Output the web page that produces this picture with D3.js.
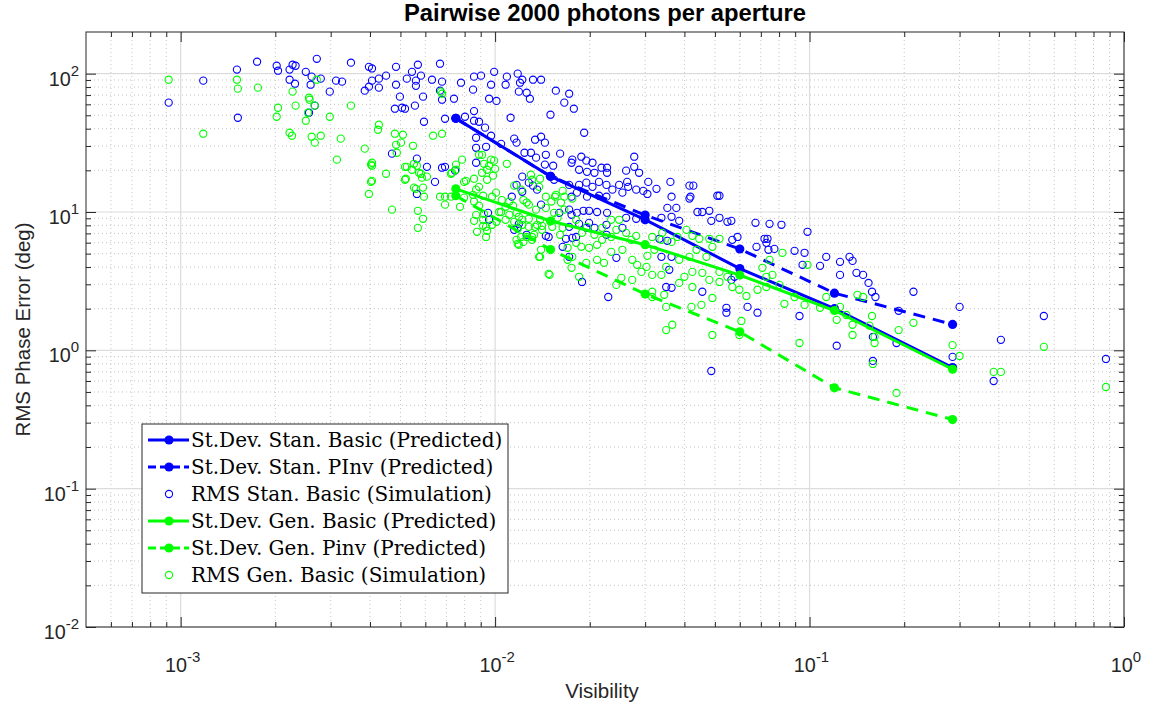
<!DOCTYPE html>
<html>
<head>
<meta charset="utf-8">
<script src="https://cdn.jsdelivr.net/npm/d3@7/dist/d3.min.js"></script>
<style>
  body { margin: 0; background: #fff; }
  text { font-family: "Liberation Sans", Arial, sans-serif; fill: #262626; }
</style>
</head>
<body>
<div id="chart"></div>
<script>
// predicted curves (visibility vs st.dev, deg)
var visPred = [0.0075, 0.015, 0.03, 0.06, 0.12, 0.285];
var stanBasicPred = [47.5, 18.1, 8.8, 3.9, 2.0, 0.75];
var stanPinvPred = [47.5, 18.1, 9.5, 5.4, 2.59, 1.54];
var genBasicPred = [14.7, 8.6, 5.8, 3.5, 1.94, 0.73];
var genPinvPred = [13.1, 5.35, 2.55, 1.36, 0.536, 0.316];

// simulation, standard basic: [visibility, rms error]
var stanSim = [
  [0.000916,61.7],[0.00118,89.0],[0.00151,107],[0.00152,48.0],[0.00175,122],[0.00202,114],[0.00204,105],
  [0.00222,107],[0.00227,116],[0.00232,114],[0.0025,103],[0.00261,95.1],[0.00279,92.0],[0.00222,90.4],
  [0.00231,84.6],[0.00259,83.2],[0.00271,128],[0.00298,74.1],[0.00312,89.0],[0.00326,87.5],[0.00348,120],
  [0.00267,58.7],[0.00256,52.2],[0.00397,112],[0.00406,109],[0.00406,89.0],[0.00397,80.5],[0.00385,75.3],
  [0.00427,79.2],[0.00427,92.0],[0.0045,96.7],[0.00484,112],[0.00484,83.2],[0.00498,68.2],[0.0048,55.8],
  [0.00506,56.7],[0.00517,55.8],[0.00556,58.7],[0.00524,92.0],[0.00544,103],[0.0056,89.0],[0.0056,81.6],
  [0.00568,116],[0.00581,96.7],[0.0059,68.2],[0.0063,90.4],[0.00668,118],[0.00678,87.5],[0.00668,75.3],
  [0.00678,64.8],[0.0074,65.9],[0.00779,86.0],[0.00857,95.1],[0.00851,76.6],[0.00857,53.6],[0.00693,47.2],
  [0.00594,44.9],[0.00802,48.8],[0.00857,45.7],[0.0087,34.4],[0.0087,29.1],[0.0047,26.4],[0.00564,24.3],
  [0.00607,21.2],[0.00678,20.9],[0.00693,21.2],[0.00746,19.9],[0.00644,16.5],[0.00564,13.5],[0.0087,22.7],
  [0.00902,96.7],[0.00993,103],[0.00971,83.2],[0.00957,65.9],[0.0101,63.5],[0.0109,95.1],[0.0108,83.2],
  [0.0118,100],[0.0122,90.4],[0.012,86.0],[0.0119,74.1],[0.0126,72.8],[0.0129,65.9],[0.0132,90.4],
  [0.014,90.4],[0.0156,75.3],[0.0172,71.6],[0.0166,61.7],[0.0178,55.8],[0.015,50.5],[0.0112,48.0],
  [0.00929,40.7],[0.00889,44.9],[0.00971,35.6],[0.01045,31.1],[0.00936,29.6],[0.0115,33.9],[0.0117,31.7],
  [0.0134,33.3],[0.014,35.0],[0.0144,31.7],[0.0192,37.4],[0.0124,26.8],[0.013,26.8],[0.0145,25.9],
  [0.0161,26.4],[0.0135,24.7],[0.0144,22.0],[0.0153,21.6],[0.0176,23.9],[0.0175,22.7],[0.0188,25.1],
  [0.0195,23.5],[0.0204,22.7],[0.0185,20.2],[0.0196,19.5],[0.0207,19.2],[0.0218,20.9],[0.0227,20.9],
  [0.0227,19.2],[0.0261,19.9],[0.0277,25.1],[0.0277,21.2],[0.0287,19.2],[0.0263,16.5],[0.0281,14.5],
  [0.0307,16.5],[0.0361,16.5],[0.0415,15.5],[0.0427,15.5],[0.0517,13.1],[0.0364,12.9],[0.0418,12.9],
  [0.0122,18.0],[0.0117,15.7],[0.0113,12.9],[0.0128,16.3],[0.0122,14.0],[0.0172,15.7],[0.0185,15.7],
  [0.0195,16.3],[0.0204,15.2],[0.0214,16.5],[0.0226,15.7],[0.0236,14.5],[0.0248,15.7],[0.0254,13.8],
  [0.0265,15.2],[0.0296,14.2],[0.0305,13.5],[0.0326,14.7],[0.0182,13.8],[0.0196,12.9],[0.0214,13.1],
  [0.0226,12.9],[0.0175,12.9],[0.014,11.3],[0.0148,6.60],[0.0136,14.5],[0.0154,17.1],[0.0132,15.5],
  [0.044,10.0],[0.0456,10.0],[0.048,10.2],[0.0487,8.63],[0.0517,9.08],[0.0548,8.49],[0.0564,8.63],
  [0.0353,10.7],[0.0377,10.7],[0.0364,9.23],[0.0385,8.63],[0.0338,9.08],[0.0415,12.5],[0.0509,13.1],
  [0.0673,8.35],[0.0746,8.21],[0.0814,8.08],[0.0985,7.19],[0.059,6.60],[0.0568,6.29],[0.0719,6.40],
  [0.0735,6.40],[0.0729,5.98],[0.0678,5.60],[0.074,5.33],[0.0773,5.41],[0.0896,5.24],[0.0964,5.07],
  [0.113,4.74],[0.125,4.36],[0.134,4.74],[0.137,4.43],[0.125,3.51],[0.141,3.63],[0.148,3.51],[0.154,3.07],
  [0.162,2.43],[0.095,4.15],[0.108,4.08],[0.0929,1.77],[0.122,1.08],[0.0261,9.08],[0.0281,8.93],
  [0.0227,9.86],[0.0226,6.84],[0.0254,7.68],[0.0243,4.66],[0.0333,6.40],[0.0353,6.19],[0.0364,4.74],
  [0.0338,4.74],[0.035,2.87],[0.0364,2.83],[0.0456,2.65],[0.0544,2.03],[0.0544,1.87],[0.0635,2.06],
  [0.0683,1.87],[0.0577,3.40],[0.0564,3.23],[0.0189,3.12],[0.0229,2.43],[0.0199,8.35],[0.0207,7.68],
  [0.0172,10.4],[0.0175,9.54],[0.0182,9.86],[0.0191,10.2],[0.0172,7.81],[0.0185,8.21],[0.0195,7.68],
  [0.016,9.86],[0.0199,10.2],[0.0211,10.0],[0.0226,8.08],[0.0168,6.40],[0.0176,6.50],[0.0181,6.60],
  [0.0164,5.60],[0.0172,4.74],[0.0145,6.72],[0.0126,6.84],[0.0115,7.43],[0.0118,7.68],[0.0119,8.21],
  [0.00957,8.78],[0.0095,9.86],[0.0358,3.82],[0.0487,0.709],[0.159,0.838],[0.285,0.896],[0.214,2.65],
  [0.300,2.06],[0.192,1.93],[0.189,1.13],[0.159,1.25],[0.158,2.65],[0.556,1.77],[0.406,1.19],[0.385,0.60],
  [0.876,0.866]
];

// simulation, generalised basic: [visibility, rms error]
var genSim = [
  [0.000916,90.4],[0.00118,36.8],[0.00151,90.4],[0.00152,77.9],[0.00176,79.2],[0.00227,74.1],[0.00204,56.7],
  [0.00202,48.8],[0.00232,58.7],[0.00256,67.0],[0.00257,64.8],[0.0025,45.7],[0.00222,37.4],[0.00226,35.6],
  [0.00261,35.0],[0.00267,31.7],[0.00279,35.6],[0.00298,48.8],[0.00323,33.9],[0.00348,58.7],[0.00314,23.9],
  [0.00385,28.7],[0.00406,22.7],[0.00403,22.0],[0.00406,16.8],[0.00403,16.5],[0.00397,13.5],[0.00427,42.7],
  [0.00424,39.3],[0.00271,90.4],[0.00254,52.2],[0.00267,58.7],[0.0045,18.9],[0.0048,36.8],[0.00509,36.2],
  [0.00502,31.7],[0.00484,30.6],[0.00487,26.8],[0.00548,30.1],[0.00635,35.6],[0.00678,36.8],[0.00517,21.2],
  [0.00552,22.3],[0.00564,21.6],[0.00524,21.2],[0.00581,18.9],[0.00607,18.0],[0.00517,17.1],[0.0056,14.7],
  [0.00552,15.0],[0.00594,12.9],[0.00668,12.9],[0.00693,12.9],[0.00724,18.9],[0.00751,22.0],[0.00797,16.5],
  [0.00857,17.4],[0.00785,23.9],[0.00673,74.1],[0.00678,71.6],[0.0047,10.4],[0.0059,15.0],[0.00568,10.2],
  [0.0059,8.93],[0.00568,7.68],[0.00693,11.3],[0.00773,10.9],[0.00857,11.9],[0.00857,8.63],[0.00876,7.19],
  [0.0087,9.54],[0.00544,20.2],[0.00573,19.2],[0.00585,17.7],[0.0052,17.4],[0.00406,21.6],[0.00724,12.9],
  [0.00729,19.2],[0.00751,20.2],[0.00808,16.8],[0.00851,13.3],[0.00797,12.7],[0.00993,23.5],[0.0109,22.3],
  [0.01,20.5],[0.00985,18.3],[0.00957,21.6],[0.00922,22.3],[0.00909,25.9],[0.00889,15.2],[0.0087,14.5],
  [0.00916,13.1],[0.00889,11.1],[0.00916,7.94],[0.00943,7.31],[0.00936,6.60],[0.00916,8.78],[0.0111,11.9],
  [0.0114,11.1],[0.0117,9.86],[0.0115,8.49],[0.0119,9.23],[0.0122,8.78],[0.0128,8.93],[0.0134,7.81],
  [0.0139,8.78],[0.0141,7.94],[0.0118,7.55],[0.0121,6.60],[0.0123,6.08],[0.0118,5.89],[0.0131,6.60],
  [0.0139,4.74],[0.0148,3.57],[0.0161,6.84],[0.0123,12.2],[0.0128,11.3],[0.0135,10.4],[0.0145,10.7],
  [0.0154,9.86],[0.0151,11.9],[0.0162,11.7],[0.0166,12.9],[0.0156,13.3],[0.0139,17.4],[0.01045,10.0],
  [0.0105,12.2],[0.0108,10.9],[0.00943,20.2],[0.00978,12.9],[0.00922,9.70],[0.00889,25.9],[0.00971,23.9],
  [0.00909,19.2],[0.00943,17.1],[0.01007,13.8],[0.0115,15.5],[0.0121,14.5],[0.0131,17.1],[0.0138,15.2],
  [0.013,18.6],[0.0164,14.2],[0.0155,12.9],[0.0145,12.9],[0.0176,12.5],[0.00936,7.81],[0.0101,8.49],
  [0.0108,8.78],[0.0122,8.08],[0.0128,7.81],[0.0136,8.08],[0.0141,7.43],[0.0133,6.84],[0.0126,6.60],
  [0.0117,6.29],[0.0119,5.79],[0.0131,6.29],[0.014,5.33],[0.0138,4.74],[0.0164,7.68],[0.0152,7.81],
  [0.0158,9.08],[0.0166,10.4],[0.0181,8.78],[0.0189,7.07],[0.0196,7.81],[0.0207,6.84],[0.0219,7.68],
  [0.0234,8.78],[0.0248,8.78],[0.0243,7.43],[0.0261,7.07],[0.0271,6.29],[0.0281,6.72],[0.0234,6.60],
  [0.0219,6.29],[0.0211,5.79],[0.0199,5.51],[0.0188,5.60],[0.0181,5.98],[0.017,5.51],[0.0176,4.74],
  [0.0195,4.29],[0.0211,4.51],[0.0222,4.29],[0.0234,5.15],[0.0254,5.33],[0.0273,4.51],[0.0283,4.15],
  [0.0303,4.01],[0.0305,4.82],[0.0321,5.33],[0.0316,6.60],[0.034,7.07],[0.0338,6.29],[0.0364,6.08],
  [0.038,6.60],[0.0406,7.43],[0.0424,6.72],[0.0446,6.40],[0.048,6.40],[0.0415,4.74],[0.0437,5.33],
  [0.047,4.74],[0.0491,5.60],[0.0517,6.40],[0.0385,4.51],[0.035,4.01],[0.0338,3.51],[0.0316,3.51],
  [0.0292,3.69],[0.04,3.40],[0.0424,3.69],[0.0456,3.63],[0.048,3.23],[0.0517,3.69],[0.0548,3.40],
  [0.0568,2.87],[0.0517,3.12],[0.0598,2.74],[0.063,2.47],[0.0683,2.74],[0.0729,3.40],[0.0762,3.51],
  [0.0729,2.87],[0.0802,2.97],[0.082,5.07],[0.0746,4.51],[0.0708,3.95],[0.0896,2.43],[0.0985,4.15],
  [0.113,2.43],[0.108,2.03],[0.0964,2.13],[0.0832,2.17],[0.122,1.66],[0.137,1.53],[0.137,1.29],
  [0.161,1.25],[0.161,1.13],[0.142,2.52],[0.125,2.06],[0.131,1.80],[0.0929,1.13],[0.0598,1.29],
  [0.0491,1.29],[0.0366,1.53],[0.035,1.40],[0.0243,2.97],[0.0252,3.34],[0.0273,3.23],[0.0316,2.65],
  [0.0316,2.43],[0.0345,2.52],[0.0385,3.07],[0.0424,2.87],[0.035,2.06],[0.0421,2.06],[0.0453,2.13],
  [0.0491,2.39],[0.0149,3.51],[0.0185,3.40],[0.017,4.51],[0.0175,3.95],[0.0126,11.7],[0.0111,9.54],
  [0.0103,10.0],[0.00978,8.08],[0.159,0.797],[0.189,0.492],[0.300,0.91],[0.214,1.58],[0.192,1.40],
  [0.285,1.09],[0.148,2.43],[0.158,1.77],[0.155,1.51],[0.385,0.698],[0.406,0.698],[0.556,1.06],
  [0.876,0.543],[0.0607,1.63]
];

var xMajor = [1e-3, 1e-2, 1e-1, 1];
var yMajor = [1e-2, 1e-1, 1, 10, 100];
var legendLabels = [
  "St.Dev. Stan. Basic (Predicted)",
  "St.Dev. Stan. PInv (Predicted)",
  "RMS Stan. Basic (Simulation)",
  "St.Dev. Gen. Basic (Predicted)",
  "St.Dev. Gen. Pinv (Predicted)",
  "RMS Gen. Basic (Simulation)"
];

var BLUE = "#0000ff", GREEN = "#00ff00";

// set the dimensions and margins of the graph
var margin = {top: 32, right: 29, bottom: 79, left: 86},
    width = 1153 - margin.left - margin.right,
    height = 706 - margin.top - margin.bottom;

var root = d3.select("#chart")
  .append("svg")
    .attr("width", width + margin.left + margin.right)
    .attr("height", height + margin.top + margin.bottom);

var svg = root.append("g")
    .attr("transform", "translate(" + margin.left + "," + margin.top + ")");

var x = d3.scaleLog().domain([5e-4, 1]).range([0, width]);
var y = d3.scaleLog().domain([0.01, 200]).range([height, 0]);

// minor tick positions (2..9 of each decade inside the domain)
function minors(scale) {
  var dom = scale.domain(), out = [];
  for (var e = Math.floor(Math.log10(dom[0])); e < Math.ceil(Math.log10(dom[1])); e++) {
    for (var m = 2; m <= 9; m++) {
      var v = m * Math.pow(10, e);
      if (v > dom[0] * 1.0001 && v < dom[1] * 0.9999) out.push(v);
    }
  }
  return out;
}
var xMinor = minors(x), yMinor = minors(y);

// grid
var grid = svg.append("g");
grid.selectAll(".xminor").data(xMinor).enter().append("line")
  .attr("x1", x).attr("x2", x).attr("y1", 0).attr("y2", height)
  .attr("stroke", "#c4c4c4").attr("stroke-dasharray", "1,3");
grid.selectAll(".yminor").data(yMinor).enter().append("line")
  .attr("y1", y).attr("y2", y).attr("x1", 0).attr("x2", width)
  .attr("stroke", "#c4c4c4").attr("stroke-dasharray", "1,3");
grid.selectAll(".xmajor").data(xMajor).enter().append("line")
  .attr("x1", x).attr("x2", x).attr("y1", 0).attr("y2", height)
  .attr("stroke", "#dcdcdc").attr("stroke-width", 1.2);
grid.selectAll(".ymajor").data(yMajor).enter().append("line")
  .attr("y1", y).attr("y2", y).attr("x1", 0).attr("x2", width)
  .attr("stroke", "#dcdcdc").attr("stroke-width", 1.2);

// axes with inward ticks on all four sides
function addAxis(gen, scale, vals, len, tr) {
  var g = svg.append("g")
    .attr("transform", tr || null)
    .call(gen(scale).tickValues(vals).tickFormat("").tickSizeInner(-len).tickSizeOuter(0));
  g.select(".domain").remove();
  g.selectAll("line").attr("stroke", "#262626");
  return g;
}
var b = "translate(0," + height + ")", r = "translate(" + width + ",0)";
addAxis(d3.axisBottom, x, xMajor, 10, b);
addAxis(d3.axisBottom, x, xMinor, 5, b);
addAxis(d3.axisTop, x, xMajor, 10);
addAxis(d3.axisTop, x, xMinor, 5);
addAxis(d3.axisLeft, y, yMajor, 10);
addAxis(d3.axisLeft, y, yMinor, 5);
addAxis(d3.axisRight, y, yMajor, 10, r);
addAxis(d3.axisRight, y, yMinor, 5, r);

svg.append("rect")
  .attr("width", width).attr("height", height)
  .attr("fill", "none").attr("stroke", "#262626").attr("stroke-width", 1);

// tick labels 10^n
function powLabel(t, d) {
  t.append("tspan").text("10");
  t.append("tspan").attr("dy", -10).style("font-size", "15px")
    .text(String(Math.round(Math.log10(d))));
}
svg.selectAll(".xlab").data(xMajor).enter().append("text")
  .attr("x", function(d) { return x(d) + 2; })
  .attr("y", height + 45)
  .attr("text-anchor", "middle")
  .style("font-size", "19.8px")
  .each(function(d) { powLabel(d3.select(this), d); });
svg.selectAll(".ylab").data(yMajor).enter().append("text")
  .attr("x", -7)
  .attr("y", function(d) { return y(d) + 12; })
  .attr("text-anchor", "end")
  .style("font-size", "19.8px")
  .each(function(d) { powLabel(d3.select(this), d); });

// labels and title
svg.append("text")
  .attr("x", width / 2 - 3).attr("y", height + 71)
  .attr("text-anchor", "middle").style("font-size", "20.5px")
  .text("Visibility");
svg.append("text")
  .attr("transform", "translate(" + (-56) + "," + (height / 2) + ") rotate(-90)")
  .attr("text-anchor", "middle").style("font-size", "20.5px")
  .text("RMS Phase Error (deg)");
svg.append("text")
  .attr("x", width / 2).attr("y", -11)
  .attr("text-anchor", "middle").style("font-size", "23.8px").style("font-weight", "bold")
  .style("fill", "#000")
  .text("Pairwise 2000 photons per aperture");

// series
var line = d3.line()
  .x(function(d) { return x(d[0]); })
  .y(function(d) { return y(d[1]); });

function predicted(vals, color, dash) {
  var pts = d3.zip(visPred, vals);
  svg.append("path").datum(pts)
    .attr("d", line).attr("fill", "none")
    .attr("stroke", color).attr("stroke-width", 3)
    .attr("stroke-dasharray", dash);
  svg.append("g").selectAll("circle").data(pts).enter().append("circle")
    .attr("cx", function(d) { return x(d[0]); })
    .attr("cy", function(d) { return y(d[1]); })
    .attr("r", 4.6).attr("fill", color);
}
function simulated(pts, color) {
  svg.append("g").selectAll("circle").data(pts).enter().append("circle")
    .attr("cx", function(d) { return x(d[0]); })
    .attr("cy", function(d) { return y(d[1]); })
    .attr("r", 3.6).attr("fill", "none")
    .attr("stroke", color).attr("stroke-width", 1.1);
}

predicted(stanBasicPred, BLUE, null);
predicted(stanPinvPred, BLUE, "12,8");
simulated(stanSim, BLUE);
predicted(genBasicPred, GREEN, null);
predicted(genPinvPred, GREEN, "12,8");
simulated(genSim, GREEN);

// legend
var legendStyle = [
  {color: BLUE, dash: null, line: true},
  {color: BLUE, dash: "8,4", line: true},
  {color: BLUE, line: false},
  {color: GREEN, dash: null, line: true},
  {color: GREEN, dash: "8,4", line: true},
  {color: GREEN, line: false}
];
var lg = svg.append("g").attr("transform", "translate(" + (142 - margin.left) + "," + (424 - margin.top) + ")");
lg.append("rect")
  .attr("width", 366).attr("height", 169)
  .attr("fill", "#fff").attr("stroke", "#262626").attr("stroke-width", 1);
var rows = lg.selectAll(".row").data(legendLabels).enter().append("g")
  .attr("transform", function(d, i) { return "translate(0," + (16 + i * 27) + ")"; });
rows.each(function(d, i) {
  var g = d3.select(this), st = legendStyle[i];
  if (st.line) {
    g.append("line").attr("x1", 6).attr("x2", 47).attr("y1", 0).attr("y2", 0)
      .attr("stroke", st.color).attr("stroke-width", 3).attr("stroke-dasharray", st.dash);
    g.append("circle").attr("cx", 27).attr("cy", 0).attr("r", 4.6).attr("fill", st.color);
  } else {
    g.append("circle").attr("cx", 27).attr("cy", 0).attr("r", 3.6)
      .attr("fill", "none").attr("stroke", st.color).attr("stroke-width", 1.1);
  }
  g.append("text").attr("x", 49).attr("y", 7)
    .style("font-family", "'DejaVu Serif', serif").style("font-size", "20px")
    .style("fill", "#000")
    .text(d);
});
</script>
</body>
</html>
